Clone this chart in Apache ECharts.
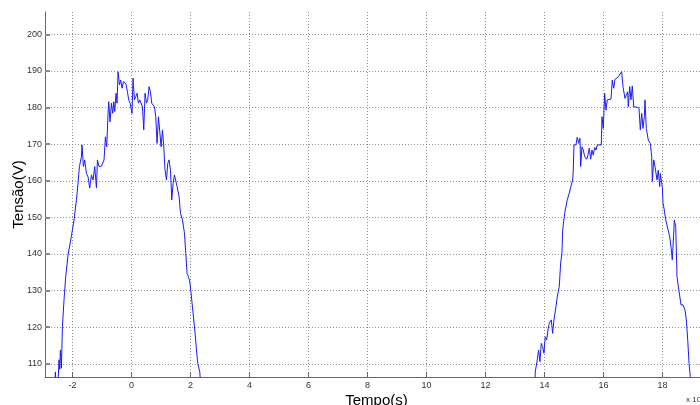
<!DOCTYPE html>
<html>
<head>
<meta charset="utf-8">
<script src="https://cdn.jsdelivr.net/npm/echarts@6/dist/echarts.min.js"></script>
<style>
  html, body { margin: 0; padding: 0; background: #ffffff; }
  #chart { width: 700px; height: 405px; }
</style>
</head>
<body>
<div id="chart"></div>
<script>
// Time axis in units of 10^-3 s, voltage in volts
const xRange = [-2.93, 19.27];
const yRange = [106.4, 206.1];

// First half-cycle above 106 V
const time1 = [
  -2.601, -2.577, -2.557, -2.482, -2.455, -2.431, -2.408, -2.374, -2.340, -2.286,
  -2.228, -2.150, -2.058, -1.946, -1.865, -1.811, -1.763, -1.695, -1.675, -1.628,
  -1.584, -1.526, -1.472, -1.414, -1.356, -1.302, -1.244, -1.187, -1.153, -1.099,
  -1.017, -0.929, -0.882, -0.838, -0.793, -0.770, -0.726, -0.678, -0.634, -0.600,
  -0.566, -0.522, -0.488, -0.454, -0.407, -0.363, -0.319, -0.271, -0.227, -0.183,
  -0.136, -0.092, -0.047, 0.000, 0.020, 0.054, 0.102, 0.146, 0.190, 0.237,
  0.281, 0.326, 0.373, 0.417, 0.461, 0.509, 0.553, 0.597, 0.644, 0.688,
  0.732, 0.780, 0.824, 0.868, 0.916, 0.960, 1.004, 1.051, 1.095, 1.139,
  1.187, 1.231, 1.275, 1.322, 1.367, 1.411, 1.458, 1.502, 1.546, 1.614,
  1.662, 1.729, 1.797, 1.841, 1.885, 1.933, 1.977, 2.021, 2.089, 2.157,
  2.204, 2.248, 2.316, 2.350
];
const volt1 = [
  104.0, 107.8, 104.0, 106.0, 111.1, 108.5, 113.8, 108.8, 120.1, 127.4,
  133.8, 139.7, 143.8, 149.3, 154.8, 159.3, 163.9, 166.6, 169.8, 163.9,
  165.7, 162.0, 161.1, 158.0, 161.6, 160.2, 163.9, 158.0, 165.7, 163.9,
  164.0, 165.7, 172.0, 169.3, 178.4, 181.6, 176.1, 181.2, 178.4, 181.6,
  178.9, 183.9, 181.2, 189.8, 186.2, 187.5, 185.3, 187.1, 187.5, 186.4,
  184.3, 182.1, 181.2, 181.6, 178.4, 188.0, 182.1, 183.0, 183.9, 181.2,
  182.1, 181.6, 180.2, 173.9, 183.9, 181.2, 182.1, 185.7, 184.3, 181.2,
  181.6, 180.2, 177.5, 170.2, 177.5, 173.4, 169.3, 173.9, 169.3, 162.9,
  160.2, 164.8, 165.7, 162.9, 154.8, 159.3, 161.6, 161.1, 158.4, 155.7,
  151.1, 149.3, 145.7, 140.2, 134.7, 133.8, 132.4, 129.3, 123.8, 118.3,
  113.8, 110.1, 107.8, 104.0
];

// Second half-cycle above 106 V
const time2 = [
  13.676, 13.686, 13.754, 13.801, 13.845, 13.889, 13.937, 13.981, 14.025, 14.073,
  14.117, 14.161, 14.229, 14.276, 14.320, 14.388, 14.432, 14.500, 14.547, 14.591,
  14.615, 14.683, 14.771, 14.839, 14.907, 14.954, 14.975, 14.998, 15.066, 15.110,
  15.158, 15.202, 15.226, 15.270, 15.314, 15.361, 15.429, 15.473, 15.517, 15.565,
  15.609, 15.653, 15.700, 15.744, 15.788, 15.924, 15.948, 15.992, 16.039, 16.083,
  16.128, 16.185, 16.253, 16.297, 16.345, 16.389, 16.433, 16.501, 16.568, 16.616,
  16.660, 16.728, 16.772, 16.819, 16.840, 16.887, 16.931, 16.975, 17.023, 17.067,
  17.135, 17.203, 17.247, 17.294, 17.338, 17.383, 17.406, 17.450, 17.518, 17.586,
  17.633, 17.654, 17.701, 17.745, 17.813, 17.857, 17.905, 17.925, 17.972, 17.993,
  18.016, 18.060, 18.108, 18.152, 18.196, 18.243, 18.287, 18.331, 18.379, 18.400,
  18.447, 18.491, 18.535, 18.583, 18.627, 18.695, 18.762, 18.807, 18.854, 18.898,
  18.942, 18.990
];
const volt2 = [
  104.0, 107.8, 111.1, 113.8, 110.6, 115.6, 114.7, 112.9, 117.4, 116.5,
  119.2, 121.1, 122.0, 118.3, 122.0, 125.6, 128.3, 131.1, 137.5, 140.2,
  146.6, 151.1, 154.8, 156.6, 158.9, 160.2, 163.0, 169.8, 169.8, 171.9,
  170.2, 171.6, 163.9, 169.3, 168.4, 166.6, 165.9, 167.0, 168.9, 165.9,
  168.4, 167.0, 169.1, 168.4, 169.8, 169.8, 177.5, 174.3, 183.9, 179.3,
  182.1, 182.1, 182.3, 187.5, 185.3, 187.7, 187.5, 188.4, 188.9, 189.8,
  185.7, 182.5, 183.4, 184.3, 180.2, 185.7, 182.1, 185.9, 180.2, 179.8,
  180.1, 179.8, 173.9, 178.4, 174.3, 177.5, 182.1, 174.3, 171.1, 170.2,
  166.6, 159.8, 165.7, 163.9, 160.2, 162.9, 158.4, 162.0, 159.3, 158.4,
  153.9, 152.0, 149.3, 147.9, 147.9, 144.7, 142.0, 138.4, 145.7, 149.3,
  147.5, 133.8, 131.1, 130.6, 126.1, 126.1, 124.7, 122.0, 116.5, 110.1,
  106.5, 104.0
];

const pairs = (xs, ys) => xs.map((x, i) => [x, ys[i]]);

const FONT = '"Liberation Sans", Arial, Helvetica, sans-serif';
const gridDots = { color: '#909090', width: 1, type: [1, 2] };

const chart = echarts.init(document.getElementById('chart'), null, { renderer: 'canvas' });

chart.setOption({
  animation: false,
  backgroundColor: '#ffffff',
  grid: { left: 45, right: 0, top: 12, bottom: 28, containLabel: false, outerBoundsMode: 'none' },
  xAxis: {
    type: 'value',
    min: xRange[0],
    max: xRange[1],
    splitNumber: 11,
    name: 'Tempo(s)',
    nameLocation: 'middle',
    nameGap: 16,
    nameMoveOverlap: false,
    nameTextStyle: { fontFamily: FONT, fontSize: 15, color: '#000', padding: [0, 0, 0, 8] },
    axisLine: { show: true, onZero: false, lineStyle: { color: '#666', width: 1 } },
    axisTick: { show: true, inside: true, length: 5, lineStyle: { color: '#666' } },
    axisLabel: {
      fontFamily: FONT, fontSize: 9, color: '#333', margin: 4,
      showMinLabel: false, showMaxLabel: false
    },
    splitLine: { show: true, showMinLine: false, showMaxLine: false, lineStyle: gridDots }
  },
  yAxis: {
    type: 'value',
    min: yRange[0],
    max: yRange[1],
    splitNumber: 10,
    name: 'Tensão(V)',
    nameLocation: 'middle',
    nameGap: 19,
    nameRotate: 90,
    nameMoveOverlap: false,
    nameTextStyle: { fontFamily: FONT, fontSize: 15, color: '#000' },
    axisLine: { show: true, onZero: false, lineStyle: { color: '#666', width: 1 } },
    axisTick: { show: true, inside: true, length: 5, lineStyle: { color: '#888', width: 2 } },
    axisLabel: {
      fontFamily: FONT, fontSize: 9, color: '#333', margin: 3,
      showMinLabel: false, showMaxLabel: false
    },
    splitLine: { show: true, showMinLine: false, showMaxLine: false, lineStyle: gridDots }
  },
  graphic: [
    {
      type: 'text',
      left: 686,
      top: 396,
      style: { text: 'x 10', font: '8px ' + FONT, fill: '#333' }
    }
  ],
  series: [
    {
      type: 'line',
      data: pairs(time1, volt1),
      showSymbol: false,
      clip: true,
      lineStyle: { color: '#1a1aff', width: 1 }
    },
    {
      type: 'line',
      data: pairs(time2, volt2),
      showSymbol: false,
      clip: true,
      lineStyle: { color: '#1a1aff', width: 1 }
    }
  ]
});
</script>
</body>
</html>
